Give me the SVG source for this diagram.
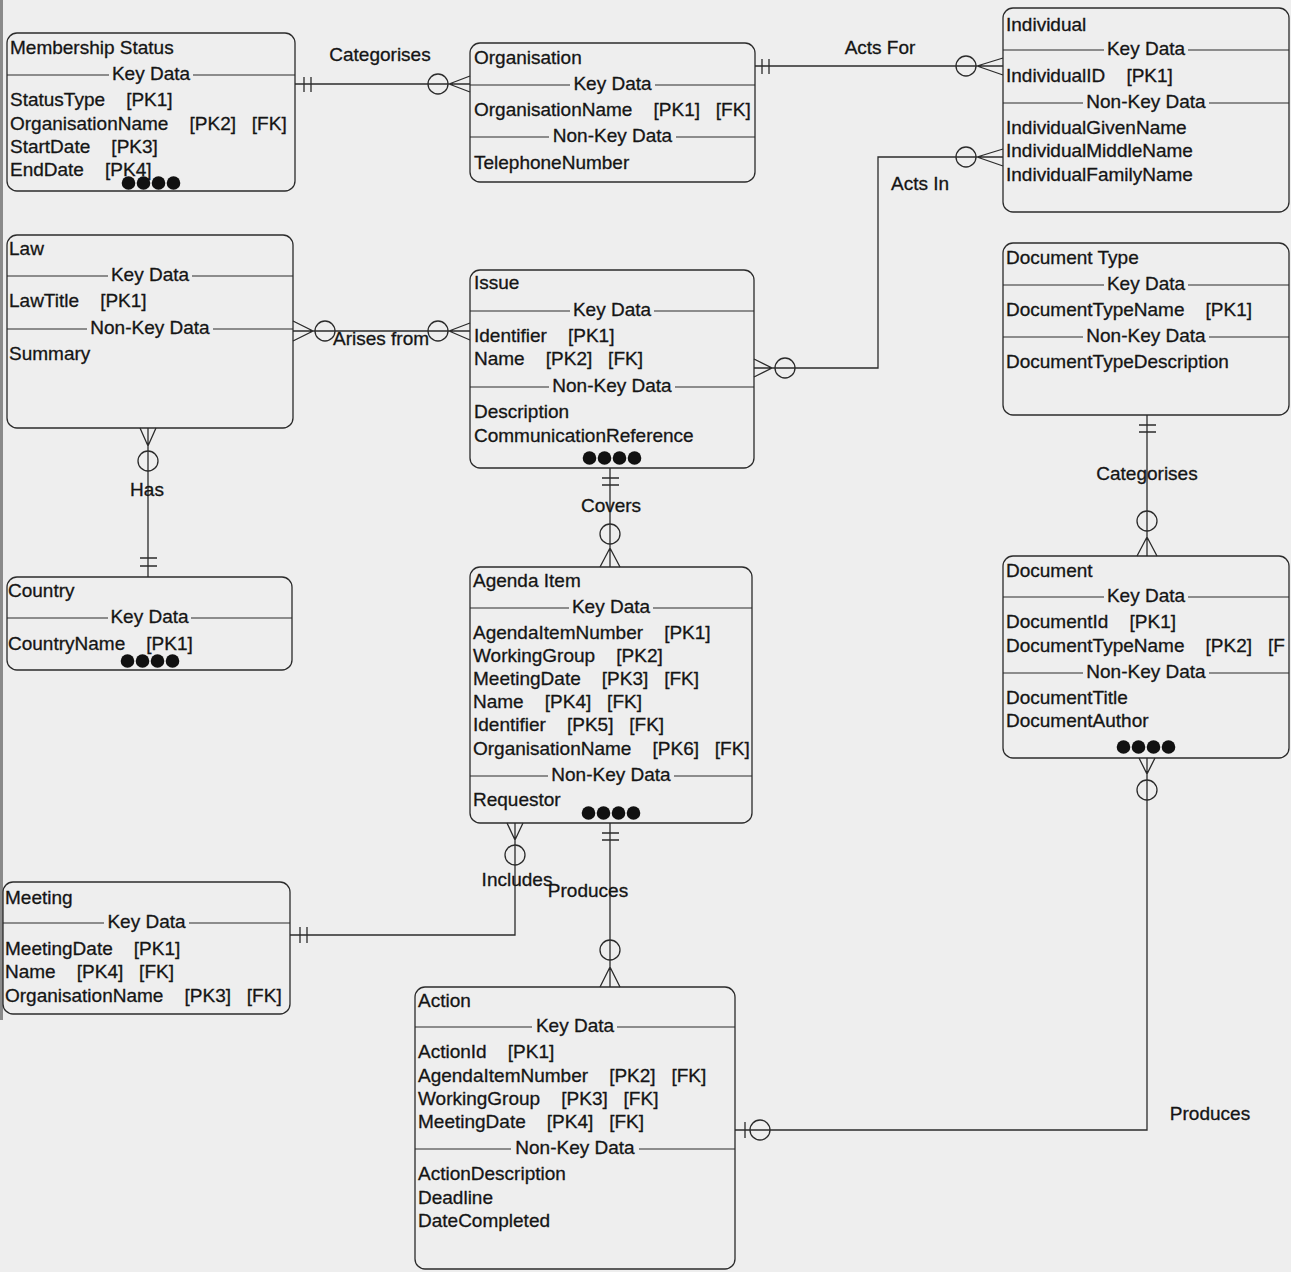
<svg xmlns="http://www.w3.org/2000/svg" width="1291" height="1272" viewBox="0 0 1291 1272" xml:space="preserve">
<style>
  .t { font-family: "Liberation Sans", Arial, sans-serif; font-size: 19px; fill: #151515; stroke: #151515; stroke-width: 0.3; white-space: pre; }
  .c { text-anchor: middle; }
  .box { fill: none; stroke: #2b2b2b; stroke-width: 1.3; }
  .sep { stroke: #2b2b2b; stroke-width: 1.2; }
  .ln { fill: none; stroke: #2b2b2b; stroke-width: 1.3; }
  .dot { fill: #111; }
</style>
<rect x="0" y="0" width="1291" height="1272" fill="#eeeeee"/>
<rect x="0" y="0" width="3" height="1020" fill="#8a8a8a"/>

<!-- Membership Status -->
<g id="membership-status">
  <rect class="box" x="7" y="33" width="288" height="158" rx="10"/>
  <text class="t" x="10" y="54">Membership Status</text>
  <line class="sep" x1="7" y1="75" x2="109" y2="75"/><line class="sep" x1="193" y1="75" x2="295" y2="75"/>
  <text class="t c" x="151" y="80">Key Data</text>
  <text class="t" x="10" y="106">StatusType    [PK1]</text>
  <text class="t" x="10" y="130">OrganisationName    [PK2]   [FK]</text>
  <text class="t" x="10" y="153">StartDate    [PK3]</text>
  <text class="t" x="10" y="176">EndDate    [PK4]</text>
  <circle class="dot" cx="128.5" cy="183" r="6.8"/><circle class="dot" cx="143.5" cy="183" r="6.8"/><circle class="dot" cx="158.5" cy="183" r="6.8"/><circle class="dot" cx="173.5" cy="183" r="6.8"/>
</g>

<!-- Organisation -->
<g id="organisation">
  <rect class="box" x="470" y="43" width="285" height="139" rx="10"/>
  <text class="t" x="474" y="64">Organisation</text>
  <line class="sep" x1="470" y1="85" x2="570" y2="85"/><line class="sep" x1="655" y1="85" x2="755" y2="85"/>
  <text class="t c" x="612.5" y="90">Key Data</text>
  <text class="t" x="474" y="116">OrganisationName    [PK1]   [FK]</text>
  <line class="sep" x1="470" y1="137" x2="549" y2="137"/><line class="sep" x1="676" y1="137" x2="755" y2="137"/>
  <text class="t c" x="612.5" y="142">Non-Key Data</text>
  <text class="t" x="474" y="169">TelephoneNumber</text>
</g>

<!-- Individual -->
<g id="individual">
  <rect class="box" x="1003" y="8" width="286" height="204" rx="10"/>
  <text class="t" x="1006" y="31">Individual</text>
  <line class="sep" x1="1003" y1="50" x2="1104" y2="50"/><line class="sep" x1="1188" y1="50" x2="1289" y2="50"/>
  <text class="t c" x="1146" y="55">Key Data</text>
  <text class="t" x="1006" y="82">IndividualID    [PK1]</text>
  <line class="sep" x1="1003" y1="103" x2="1083" y2="103"/><line class="sep" x1="1209" y1="103" x2="1289" y2="103"/>
  <text class="t c" x="1146" y="108">Non-Key Data</text>
  <text class="t" x="1006" y="134">IndividualGivenName</text>
  <text class="t" x="1006" y="157">IndividualMiddleName</text>
  <text class="t" x="1006" y="181">IndividualFamilyName</text>
</g>

<!-- Law -->
<g id="law">
  <rect class="box" x="7" y="235" width="286" height="193" rx="10"/>
  <text class="t" x="9" y="255">Law</text>
  <line class="sep" x1="7" y1="276" x2="108" y2="276"/><line class="sep" x1="192" y1="276" x2="293" y2="276"/>
  <text class="t c" x="150" y="281">Key Data</text>
  <text class="t" x="9" y="307">LawTitle    [PK1]</text>
  <line class="sep" x1="7" y1="329" x2="87" y2="329"/><line class="sep" x1="213" y1="329" x2="293" y2="329"/>
  <text class="t c" x="150" y="334">Non-Key Data</text>
  <text class="t" x="9" y="360">Summary</text>
</g>

<!-- Issue -->
<g id="issue">
  <rect class="box" x="470" y="270" width="284" height="198" rx="10"/>
  <text class="t" x="474" y="289">Issue</text>
  <line class="sep" x1="470" y1="311" x2="570" y2="311"/><line class="sep" x1="654" y1="311" x2="754" y2="311"/>
  <text class="t c" x="612" y="316">Key Data</text>
  <text class="t" x="474" y="342">Identifier    [PK1]</text>
  <text class="t" x="474" y="365">Name    [PK2]   [FK]</text>
  <line class="sep" x1="470" y1="387" x2="549" y2="387"/><line class="sep" x1="675" y1="387" x2="754" y2="387"/>
  <text class="t c" x="612" y="392">Non-Key Data</text>
  <text class="t" x="474" y="418">Description</text>
  <text class="t" x="474" y="442">CommunicationReference</text>
  <circle class="dot" cx="589.5" cy="458" r="6.8"/><circle class="dot" cx="604.5" cy="458" r="6.8"/><circle class="dot" cx="619.5" cy="458" r="6.8"/><circle class="dot" cx="634.5" cy="458" r="6.8"/>
</g>

<!-- Document Type -->
<g id="document-type">
  <rect class="box" x="1003" y="243" width="286" height="172" rx="10"/>
  <text class="t" x="1006" y="264">Document Type</text>
  <line class="sep" x1="1003" y1="285" x2="1104" y2="285"/><line class="sep" x1="1188" y1="285" x2="1289" y2="285"/>
  <text class="t c" x="1146" y="290">Key Data</text>
  <text class="t" x="1006" y="316">DocumentTypeName    [PK1]</text>
  <line class="sep" x1="1003" y1="337" x2="1083" y2="337"/><line class="sep" x1="1209" y1="337" x2="1289" y2="337"/>
  <text class="t c" x="1146" y="342">Non-Key Data</text>
  <text class="t" x="1006" y="368">DocumentTypeDescription</text>
</g>

<!-- Country -->
<g id="country">
  <rect class="box" x="7" y="577" width="285" height="93" rx="10"/>
  <text class="t" x="8" y="597">Country</text>
  <line class="sep" x1="7" y1="618" x2="108" y2="618"/><line class="sep" x1="191" y1="618" x2="292" y2="618"/>
  <text class="t c" x="149.5" y="623">Key Data</text>
  <text class="t" x="8" y="650">CountryName    [PK1]</text>
  <circle class="dot" cx="127.5" cy="661" r="6.8"/><circle class="dot" cx="142.5" cy="661" r="6.8"/><circle class="dot" cx="157.5" cy="661" r="6.8"/><circle class="dot" cx="172.5" cy="661" r="6.8"/>
</g>

<!-- Agenda Item -->
<g id="agenda-item">
  <rect class="box" x="470" y="567" width="282" height="256" rx="10"/>
  <text class="t" x="473" y="587">Agenda Item</text>
  <line class="sep" x1="470" y1="608" x2="569" y2="608"/><line class="sep" x1="653" y1="608" x2="752" y2="608"/>
  <text class="t c" x="611" y="613">Key Data</text>
  <text class="t" x="473" y="639">AgendaItemNumber    [PK1]</text>
  <text class="t" x="473" y="662">WorkingGroup    [PK2]</text>
  <text class="t" x="473" y="685">MeetingDate    [PK3]   [FK]</text>
  <text class="t" x="473" y="708">Name    [PK4]   [FK]</text>
  <text class="t" x="473" y="731">Identifier    [PK5]   [FK]</text>
  <text class="t" x="473" y="755">OrganisationName    [PK6]   [FK]</text>
  <line class="sep" x1="470" y1="776" x2="548" y2="776"/><line class="sep" x1="674" y1="776" x2="752" y2="776"/>
  <text class="t c" x="611" y="781">Non-Key Data</text>
  <text class="t" x="473" y="806">Requestor</text>
  <circle class="dot" cx="588.5" cy="813" r="6.8"/><circle class="dot" cx="603.5" cy="813" r="6.8"/><circle class="dot" cx="618.5" cy="813" r="6.8"/><circle class="dot" cx="633.5" cy="813" r="6.8"/>
</g>

<!-- Document -->
<g id="document">
  <rect class="box" x="1003" y="556" width="286" height="202" rx="10"/>
  <text class="t" x="1006" y="577">Document</text>
  <line class="sep" x1="1003" y1="597" x2="1104" y2="597"/><line class="sep" x1="1188" y1="597" x2="1289" y2="597"/>
  <text class="t c" x="1146" y="602">Key Data</text>
  <text class="t" x="1006" y="628">DocumentId    [PK1]</text>
  <text class="t" x="1006" y="652">DocumentTypeName    [PK2]   [F</text>
  <line class="sep" x1="1003" y1="673" x2="1083" y2="673"/><line class="sep" x1="1209" y1="673" x2="1289" y2="673"/>
  <text class="t c" x="1146" y="678">Non-Key Data</text>
  <text class="t" x="1006" y="704">DocumentTitle</text>
  <text class="t" x="1006" y="727">DocumentAuthor</text>
  <circle class="dot" cx="1123.5" cy="747" r="6.8"/><circle class="dot" cx="1138.5" cy="747" r="6.8"/><circle class="dot" cx="1153.5" cy="747" r="6.8"/><circle class="dot" cx="1168.5" cy="747" r="6.8"/>
</g>

<!-- Meeting -->
<g id="meeting">
  <rect class="box" x="3" y="882" width="287" height="132" rx="10"/>
  <text class="t" x="5" y="904">Meeting</text>
  <line class="sep" x1="3" y1="923" x2="104" y2="923"/><line class="sep" x1="189" y1="923" x2="290" y2="923"/>
  <text class="t c" x="146.5" y="928">Key Data</text>
  <text class="t" x="5" y="955">MeetingDate    [PK1]</text>
  <text class="t" x="5" y="978">Name    [PK4]   [FK]</text>
  <text class="t" x="5" y="1002">OrganisationName    [PK3]   [FK]</text>
</g>

<!-- Action -->
<g id="action">
  <rect class="box" x="415" y="987" width="320" height="282" rx="10"/>
  <text class="t" x="418" y="1007">Action</text>
  <line class="sep" x1="415" y1="1027" x2="532" y2="1027"/><line class="sep" x1="617" y1="1027" x2="735" y2="1027"/>
  <text class="t c" x="575" y="1032">Key Data</text>
  <text class="t" x="418" y="1058">ActionId    [PK1]</text>
  <text class="t" x="418" y="1082">AgendaItemNumber    [PK2]   [FK]</text>
  <text class="t" x="418" y="1105">WorkingGroup    [PK3]   [FK]</text>
  <text class="t" x="418" y="1128">MeetingDate    [PK4]   [FK]</text>
  <line class="sep" x1="415" y1="1149" x2="511" y2="1149"/><line class="sep" x1="639" y1="1149" x2="735" y2="1149"/>
  <text class="t c" x="575" y="1154">Non-Key Data</text>
  <text class="t" x="418" y="1180">ActionDescription</text>
  <text class="t" x="418" y="1204">Deadline</text>
  <text class="t" x="418" y="1227">DateCompleted</text>
</g>

<!-- Relationships -->
<g id="connectors">
  <!-- Membership Status - Organisation -->
  <path class="ln" d="M295 84H470M304 77V92M311 77V92M449 84L470 76M449 84L470 92"/>
  <circle class="ln" cx="438" cy="84" r="10"/>
  <text class="t c" x="380" y="61">Categorises</text>

  <!-- Organisation - Individual -->
  <path class="ln" d="M755 66H1003M762 59V74M769 59V74M977 66L1003 58M977 66L1003 75"/>
  <circle class="ln" cx="966" cy="66" r="10"/>
  <text class="t c" x="880" y="54">Acts For</text>

  <!-- Issue - Individual -->
  <path class="ln" d="M754 368H878V157H1003M754 359L772 368L754 377M977 157L1003 149M977 157L1003 166"/>
  <circle class="ln" cx="785" cy="368" r="10"/>
  <circle class="ln" cx="966" cy="157" r="10"/>
  <text class="t c" x="920" y="190">Acts In</text>

  <!-- Law - Issue -->
  <path class="ln" d="M293 331H470M293 321L313 331L293 341M449 331L470 323M449 331L470 340"/>
  <circle class="ln" cx="325" cy="331" r="10"/>
  <circle class="ln" cx="438" cy="331" r="10"/>
  <text class="t c" x="381" y="345">Arises from</text>

  <!-- Law - Country -->
  <path class="ln" d="M148 428V577M140 428L148 446L156 428M140 558H157M140 566H157"/>
  <circle class="ln" cx="148" cy="461" r="10"/>
  <text class="t c" x="147" y="496">Has</text>

  <!-- Issue - Agenda Item -->
  <path class="ln" d="M610 468V567M602 478H619M602 485H619M610 548L600 567M610 548L620 567"/>
  <circle class="ln" cx="610" cy="534" r="10"/>
  <text class="t c" x="611" y="512">Covers</text>

  <!-- Agenda Item - Meeting -->
  <path class="ln" d="M515 823V935H290M507 823L515 840L523 823M300 927V943M307 927V943"/>
  <circle class="ln" cx="515" cy="855" r="10"/>
  <text class="t c" x="517" y="886">Includes</text>

  <!-- Agenda Item - Action -->
  <path class="ln" d="M610 823V987M602 833H619M602 840H619M610 967L600 987M610 967L620 987"/>
  <circle class="ln" cx="610" cy="950" r="10"/>
  <text class="t c" x="588" y="897">Produces</text>

  <!-- Document Type - Document -->
  <path class="ln" d="M1147 415V556M1139 425H1156M1139 432H1156M1147 537L1137 556M1147 537L1157 556"/>
  <circle class="ln" cx="1147" cy="521" r="10"/>
  <text class="t c" x="1147" y="480">Categorises</text>

  <!-- Document - Action -->
  <path class="ln" d="M1147 758V1130H735M1139 758L1147 774L1155 758M745 1122V1138"/>
  <circle class="ln" cx="1147" cy="790" r="10"/>
  <circle class="ln" cx="760" cy="1130" r="10"/>
  <text class="t c" x="1210" y="1120">Produces</text>
</g>
</svg>
